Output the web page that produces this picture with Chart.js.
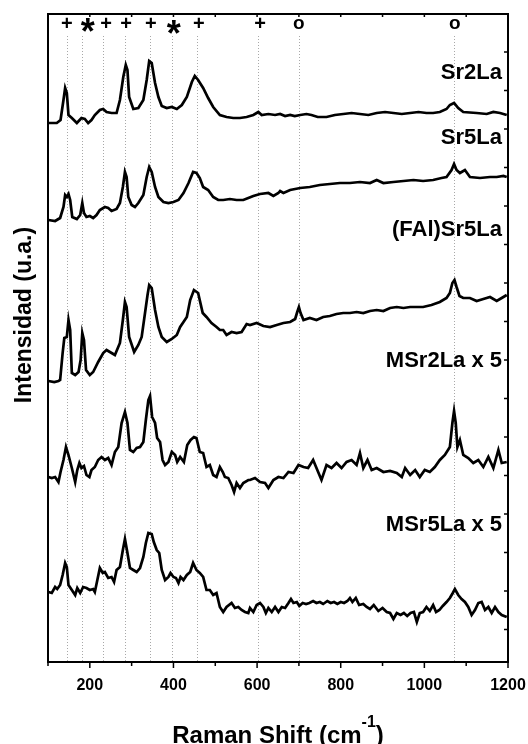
<!DOCTYPE html>
<html>
<head>
<meta charset="utf-8">
<script src="https://cdn.jsdelivr.net/npm/chart.js@4"></script>
<style>
  body { margin: 0; background: #fff; }
  #wrap { width: 528px; height: 744px; }
</style>
</head>
<body>
<div id="wrap"><canvas id="ramanChart" width="528" height="744"></canvas></div>
<script>
// ---- Data (Raman shift in cm-1, intensity in arbitrary stacked units) ----
const seriesNames = ['Sr2La', 'Sr5La', '(FAl)Sr5La', 'MSr2La x 5', 'MSr5La x 5'];

const sr2laShift = [101,121,130,137,141,145,149,157,169,180,188,196,204,212,224,232,240,252,264,272,280,286,290,294,304,316,328,336,342,348,356,364,372,384,396,408,420,432,444,451,459,471,483,495,511,527,543,559,575,591,603,611,627,643,655,667,679,690,703,718,730,745,766,786,806,826,846,866,886,906,926,946,966,986,1005,1021,1037,1053,1061,1071,1081,1093,1125,1149,1165,1181,1197];
const sr2laInt = [539,539,542,562,574,569,547,544,539,544,543,539,542,547,552,553,550,549,549,562,585,597,592,565,553,554,562,582,601,599,579,565,556,554,555,553,557,565,580,586,582,574,564,555,547,545,544,544,545,547,550,547,548,547,548,546,547,546,547,548,547,545,545,547,548,549,548,547,549,550,549,548,549,550,549,549,550,553,557,559,554,550,549,548,550,549,547];

const sr5laShift = [101,117,129,137,141,145,149,153,158,169,177,182,186,192,200,208,216,224,236,244,252,264,272,279,284,288,292,300,308,316,328,336,342,348,356,364,376,388,400,412,424,436,447,455,463,471,483,495,507,519,535,551,567,579,591,607,627,639,651,655,663,679,703,726,750,774,798,822,846,870,886,902,926,950,974,997,1021,1041,1053,1065,1071,1077,1085,1097,1109,1133,1157,1173,1189,1197];
const sr5laInt = [442,441,444,455,467,465,468,462,445,443,447,459,449,445,446,444,447,452,455,454,451,453,459,475,490,485,465,457,455,459,467,485,495,490,475,465,460,459,460,462,469,479,490,489,484,475,472,465,462,462,463,462,462,464,466,468,469,466,469,471,469,472,474,475,477,478,479,479,480,479,482,479,480,481,482,481,482,484,485,492,498,492,489,492,485,484,485,485,486,485];

const falShift = [101,115,125,129,135,139,145,149,153,157,165,173,178,182,186,191,200,208,220,232,240,248,260,272,279,284,288,294,306,316,324,332,338,342,348,356,364,372,384,396,408,416,424,432,440,449,459,470,479,491,503,511,519,527,539,551,563,575,583,599,615,631,647,663,679,691,696,700,704,711,726,742,758,774,790,806,822,838,854,870,886,902,918,934,950,966,982,997,1017,1037,1053,1061,1067,1072,1077,1084,1093,1109,1125,1141,1157,1173,1185,1197];
const falInt = [281,280,281,282,309,324,325,342,332,289,287,290,302,329,322,292,287,290,300,309,312,310,307,319,342,360,355,325,310,317,325,349,367,377,374,352,335,325,320,323,327,335,340,345,362,372,369,349,345,339,335,332,332,327,330,329,330,338,337,339,336,335,337,339,340,343,350,355,349,342,344,342,345,346,348,349,349,350,349,351,352,351,354,355,354,355,355,355,357,360,364,369,379,382,375,366,364,364,361,363,365,361,364,367];

const msr2Shift = [101,109,117,125,130,137,143,149,157,165,170,175,180,186,192,199,204,212,220,228,236,244,252,260,268,276,284,290,296,304,312,320,328,334,340,344,349,356,361,368,374,380,388,396,404,409,416,425,433,441,449,455,463,471,479,487,495,503,511,518,523,531,539,545,551,559,567,579,583,595,607,619,627,639,651,663,675,687,699,711,722,734,746,754,766,778,790,802,814,826,838,846,854,864,874,886,902,918,934,946,954,966,978,989,1001,1013,1025,1037,1049,1061,1067,1071,1075,1079,1085,1093,1105,1117,1129,1141,1153,1165,1177,1185,1197];
const msr2Int = [185,184,185,180,190,202,215,207,194,180,192,199,194,196,187,185,192,195,202,205,202,204,197,210,215,239,250,239,212,210,214,215,220,242,262,266,245,239,224,220,202,197,200,210,207,200,205,200,217,222,225,224,210,209,195,197,187,185,195,190,185,184,177,170,179,174,179,182,182,184,180,179,174,182,185,184,190,189,197,195,194,202,190,182,197,194,199,194,200,202,197,209,194,202,192,194,190,191,189,185,194,187,192,185,192,190,195,202,207,215,239,251,239,215,222,207,204,199,202,195,205,194,212,199,200];

const msr5Shift = [101,109,117,122,129,135,141,145,149,157,165,170,177,184,192,200,208,212,218,224,231,236,244,252,258,264,272,279,284,290,296,304,312,320,328,334,340,348,353,360,366,372,380,388,393,400,406,412,417,424,432,440,447,455,463,471,479,487,495,503,511,519,527,539,547,555,563,571,579,
  583,591,599,607,615,621,627,635,643,651,659,667,675,681,687,695,701,709,717,725,734,742,750,758,768,776,784,792,800,808,816,822,828,836,844,854,862,870,879,890,900,910,918,926,934,943,951,959,967,975,982,989,997,1005,1013,1021,1028,1036,1044,1053,1061,1068,1073,1081,1089,1097,1105,1113,1121,1129,1137,1145,1153,1161,1169,1177,1185,1197];
const msr5Int = [70,69,75,73,77,87,99,95,77,72,67,74,69,75,74,72,73,70,82,94,89,90,84,85,80,92,95,112,123,109,94,92,90,94,105,119,129,128,120,112,109,92,82,85,89,85,84,79,85,82,87,90,99,92,89,85,72,72,67,69,55,50,55,59,54,55,52,50,49,
  54,50,57,59,55,49,54,50,55,50,55,54,59,63,59,60,56,59,58,59,61,59,60,58,61,59,60,58,60,59,61,64,60,64,57,58,55,53,57,51,54,50,49,43,49,47,49,46,49,50,40,49,50,55,51,57,50,52,56,60,64,69,73,67,63,60,55,47,52,59,60,52,55,49,55,50,47,45];

// ---- Band assignments along the top ----
const bandShifts = [145, 182, 232, 285, 345, 397, 457, 603, 700, 1072];
const markerShifts = [145, 195, 239, 287, 346, 401, 461, 607, 700, 1073];
const markerSymbols = ['+', '*', '+', '+', '+', '*', '+', '+', 'o', 'o'];

// ---- Axis ----
const xMin = 100, xMax = 1200, xStep = 100;
const xLabelStep = 200;

const FONT = 'Arial, "Liberation Sans", sans-serif';

const spectra = [
  [sr2laShift, sr2laInt],
  [sr5laShift, sr5laInt],
  [falShift, falInt],
  [msr2Shift, msr2Int],
  [msr5Shift, msr5Int]
];

// where each sample name sits (intensity units)
const labelLevels = [589, 524, 432, 301, 137];

const decor = {
  id: 'decor',
  beforeDatasetsDraw(chart) {
    const { ctx, chartArea: a, scales: { x } } = chart;
    ctx.save();
    ctx.strokeStyle = '#a8a8a8';
    ctx.lineWidth = 1;
    ctx.setLineDash([1, 2]);
    bandShifts.forEach(v => {
      const px = Math.round(x.getPixelForValue(v)) + 0.5;
      ctx.beginPath();
      ctx.moveTo(px, a.top + 22);
      ctx.lineTo(px, a.bottom);
      ctx.stroke();
    });
    ctx.restore();
  },
  afterDraw(chart) {
    const { ctx, chartArea: a, scales: { x, y } } = chart;
    ctx.save();
    ctx.strokeStyle = '#000';
    ctx.fillStyle = '#000';

    // frame
    ctx.lineWidth = 2;
    ctx.strokeRect(a.left, a.top, a.right - a.left, a.bottom - a.top);

    // bottom (outward) and top (inward) ticks
    ctx.lineWidth = 1.5;
    for (let v = xMin; v <= xMax; v += xStep) {
      const px = x.getPixelForValue(v);
      const len = v % xLabelStep === 0 ? 6 : 4;
      ctx.beginPath();
      ctx.moveTo(px, a.bottom);
      ctx.lineTo(px, a.bottom + len);
      ctx.moveTo(px, a.top);
      ctx.lineTo(px, a.top + 3);
      ctx.stroke();
    }
    // right ticks (inward)
    for (let py = a.top + 38; py < a.bottom; py += 38.5) {
      ctx.beginPath();
      ctx.moveTo(a.right, py);
      ctx.lineTo(a.right - 4, py);
      ctx.stroke();
    }

    // band markers
    ctx.textAlign = 'center';
    ctx.textBaseline = 'alphabetic';
    markerShifts.forEach((v, i) => {
      const px = x.getPixelForValue(v);
      const s = markerSymbols[i];
      if (s === '+') {
        ctx.font = 'bold 20px ' + FONT;
        ctx.fillText('+', px, 30);
      } else if (s === '*') {
        ctx.font = 'bold 36px ' + FONT;
        ctx.fillText('*', px, 44 + (i > 2 ? 2 : 0));
      } else {
        ctx.font = 'bold 19px ' + FONT;
        ctx.fillText('o', px, 29);
      }
    });

    // sample labels
    ctx.font = 'bold 22px ' + FONT;
    ctx.textAlign = 'right';
    ctx.textBaseline = 'middle';
    seriesNames.forEach((n, i) => {
      ctx.fillText(n, a.right - 6, y.getPixelForValue(labelLevels[i]));
    });

    // y title
    ctx.save();
    ctx.translate(25, 315);
    ctx.rotate(-Math.PI / 2);
    ctx.textAlign = 'center';
    ctx.textBaseline = 'middle';
    ctx.font = 'bold 23px ' + FONT;
    ctx.fillText('Intensidad (u.a.)', 0, 0);
    ctx.restore();

    // x title with superscript
    const main = 'Raman Shift (cm';
    const sup = '-1';
    const close = ')';
    ctx.textBaseline = 'alphabetic';
    ctx.textAlign = 'left';
    ctx.font = 'bold 24px ' + FONT;
    const wMain = ctx.measureText(main).width;
    const wClose = ctx.measureText(close).width;
    ctx.font = 'bold 16px ' + FONT;
    const wSup = ctx.measureText(sup).width;
    let tx = (a.left + a.right) / 2 - (wMain + wSup + wClose) / 2;
    ctx.font = 'bold 24px ' + FONT;
    ctx.fillText(main, tx, 743);
    tx += wMain;
    ctx.font = 'bold 16px ' + FONT;
    ctx.fillText(sup, tx, 727);
    tx += wSup;
    ctx.font = 'bold 24px ' + FONT;
    ctx.fillText(close, tx, 743);

    ctx.restore();
  }
};

const ctx = document.getElementById('ramanChart').getContext('2d');

const ramanChart = new Chart(ctx, {
  type: 'line',
  data: {
    datasets: spectra.map((s, i) => ({
      label: seriesNames[i],
      data: s[0].map((v, j) => ({ x: v, y: s[1][j] })),
      borderColor: '#000',
      borderWidth: 2.7,
      pointRadius: 0,
      tension: 0,
      fill: false
    }))
  },
  options: {
    responsive: false,
    animation: false,
    layout: { padding: { left: 48, right: 20, top: 14, bottom: 0 } },
    plugins: {
      legend: { display: false },
      tooltip: { enabled: false }
    },
    scales: {
      x: {
        type: 'linear',
        min: xMin,
        max: xMax,
        border: { display: false },
        grid: { display: false, drawTicks: false },
        ticks: {
          stepSize: xStep,
          autoSkip: false,
          maxRotation: 0,
          padding: 14,
          color: '#000',
          font: { family: FONT, size: 16, weight: 'bold' },
          callback: v => (v % xLabelStep === 0 ? v : '')
        },
        afterFit: s => {
          s.height = 82;
          s.paddingLeft = 0;
          s.paddingRight = 0;
        }
      },
      y: { display: false, min: 0, max: 648 }
    }
  },
  plugins: [decor]
});
</script>
</body>
</html>
